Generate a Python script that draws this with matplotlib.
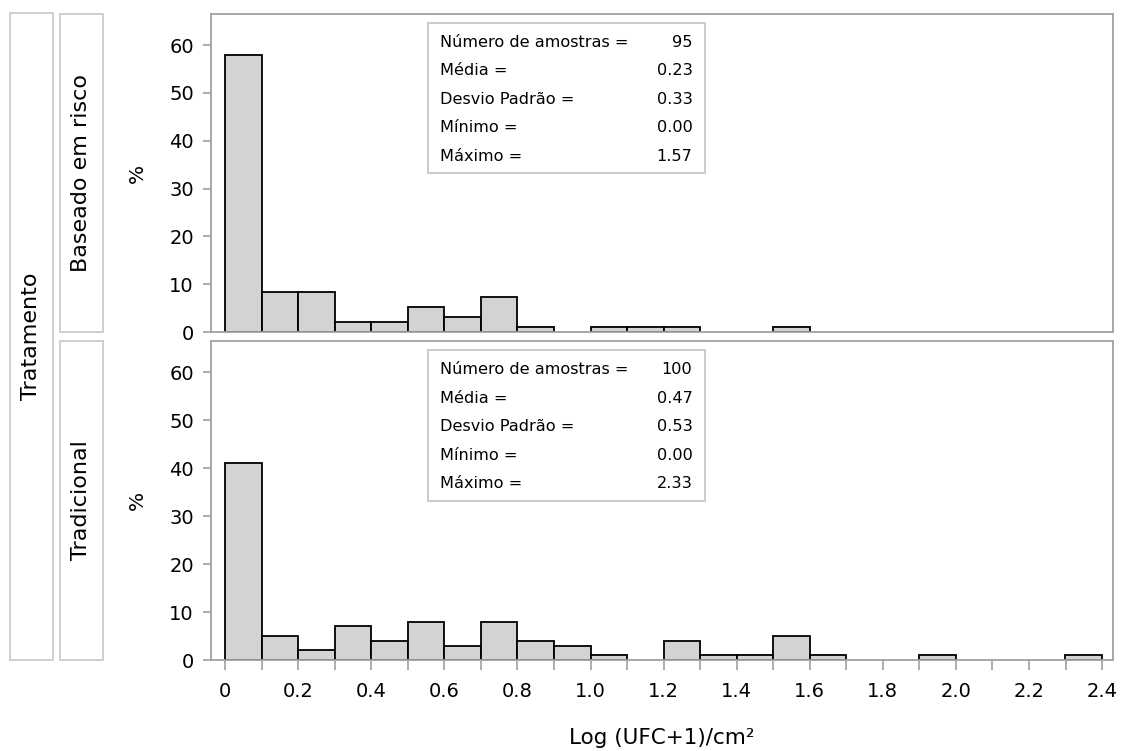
import numpy as np
import matplotlib
matplotlib.use('Agg')
import matplotlib.pyplot as plt
from matplotlib.patches import Rectangle
from matplotlib.ticker import MultipleLocator

plt.rcParams['font.family'] = ['DejaVu Sans']

# Data: counts per 0.1 wide bin, from 0.0-0.1 up to 2.3-2.4
bin_left = np.round(np.arange(0, 2.4, 0.1), 1)
counts_risco = [55, 8, 8, 2, 2, 5, 3, 7, 1, 0, 1, 1, 1, 0, 0, 1, 0, 0, 0, 0, 0, 0, 0, 0]
counts_trad = [41, 5, 2, 7, 4, 8, 3, 8, 4, 3, 1, 0, 4, 1, 1, 5, 1, 0, 0, 1, 0, 0, 0, 1]
n_risco = 95
n_trad = 100

panel_names = ['Baseado em risco', 'Tradicional']
stat_labels = ['Número de amostras =', 'Média =', 'Desvio Padrão =', 'Mínimo =', 'Máximo =']
stats_risco = ['95', '0.23', '0.33', '0.00', '1.57']
stats_trad = ['100', '0.47', '0.53', '0.00', '2.33']

x_ticks = [0, 0.2, 0.4, 0.6, 0.8, 1.0, 1.2, 1.4, 1.6, 1.8, 2.0, 2.2, 2.4]
x_ticklabels = ['0', '0.2', '0.4', '0.6', '0.8', '1.0', '1.2', '1.4', '1.6', '1.8', '2.0', '2.2', '2.4']
y_ticks = [0, 10, 20, 30, 40, 50, 60]

W, H = 1122, 751
frame_col = '#a0a0a0'
strip_col = '#cccccc'


def fbox(x0, y0, x1, y1):
    # pixel box (top-left origin) -> figure fraction rect
    return [x0 / W, 1 - y1 / H, (x1 - x0) / W, (y1 - y0) / H]


fig = plt.figure(figsize=(W / 100, H / 100), dpi=100)
ax_top = fig.add_axes(fbox(210.5, 14, 1113, 332))
ax_bot = fig.add_axes(fbox(210.5, 341, 1113, 660), sharex=ax_top)

panels = [
    (ax_top, counts_risco, n_risco, stats_risco),
    (ax_bot, counts_trad, n_trad, stats_trad),
]

for ax, counts, n, stats in panels:
    pct = np.array(counts) / n * 100
    keep = pct > 0
    ax.bar(bin_left[keep], pct[keep], width=0.1, align='edge',
           color='#d3d3d3', edgecolor='black', linewidth=1.3, zorder=2)

    ax.set_xlim(-0.04, 2.43)
    ax.set_ylim(0, 66.5)
    ax.set_yticks(y_ticks)
    for sp in ax.spines.values():
        sp.set_color(frame_col)
        sp.set_linewidth(1.3)
    ax.tick_params(axis='y', colors=frame_col, labelcolor='black', length=6,
                   width=1.2, labelsize=14, pad=6)
    ax.text(-0.0814, 0.5, '%', transform=ax.transAxes, rotation=90,
            ha='center', va='center', fontsize=14.5)

    # statistics inset
    ax.add_patch(Rectangle((0.2406, 0.50), 0.307, 0.472, transform=ax.transAxes,
                           facecolor='white', edgecolor='#c8c8c8', linewidth=1.3, zorder=3))
    for i, (lab, val) in enumerate(zip(stat_labels, stats)):
        y = 0.911 - i * 0.0898
        ax.text(0.254, y, lab, transform=ax.transAxes, ha='left', va='center',
                fontsize=11.6, zorder=4)
        ax.text(0.534, y, val, transform=ax.transAxes, ha='right', va='center',
                fontsize=11.6, zorder=4)

ax_top.tick_params(axis='x', bottom=False, labelbottom=False, which='both')
ax_bot.set_xticks(x_ticks)
ax_bot.set_xticklabels(x_ticklabels)
ax_bot.xaxis.set_minor_locator(MultipleLocator(0.1))
ax_bot.tick_params(axis='x', which='both', colors=frame_col, labelcolor='black',
                   length=7, width=1.2, labelsize=14, pad=9)
ax_bot.set_xlabel('Log (UFC+1)/cm²', fontsize=15.5, labelpad=19)

# panel strips on the left
strips = [
    (9.5, 13, 52.5, 660, 'Tratamento'),
    (59.5, 14, 102.5, 332, panel_names[0]),
    (59.5, 341, 102.5, 660, panel_names[1]),
]
for x0, y0, x1, y1, label in strips:
    r = fbox(x0, y0, x1, y1)
    fig.add_artist(Rectangle((r[0], r[1]), r[2], r[3], transform=fig.transFigure,
                             fill=False, edgecolor=strip_col, linewidth=1.3))
    fig.text(r[0] + r[2] / 2, r[1] + r[3] / 2, label, rotation=90,
             ha='center', va='center', fontsize=16)

fig.savefig('out.png', dpi=100)
